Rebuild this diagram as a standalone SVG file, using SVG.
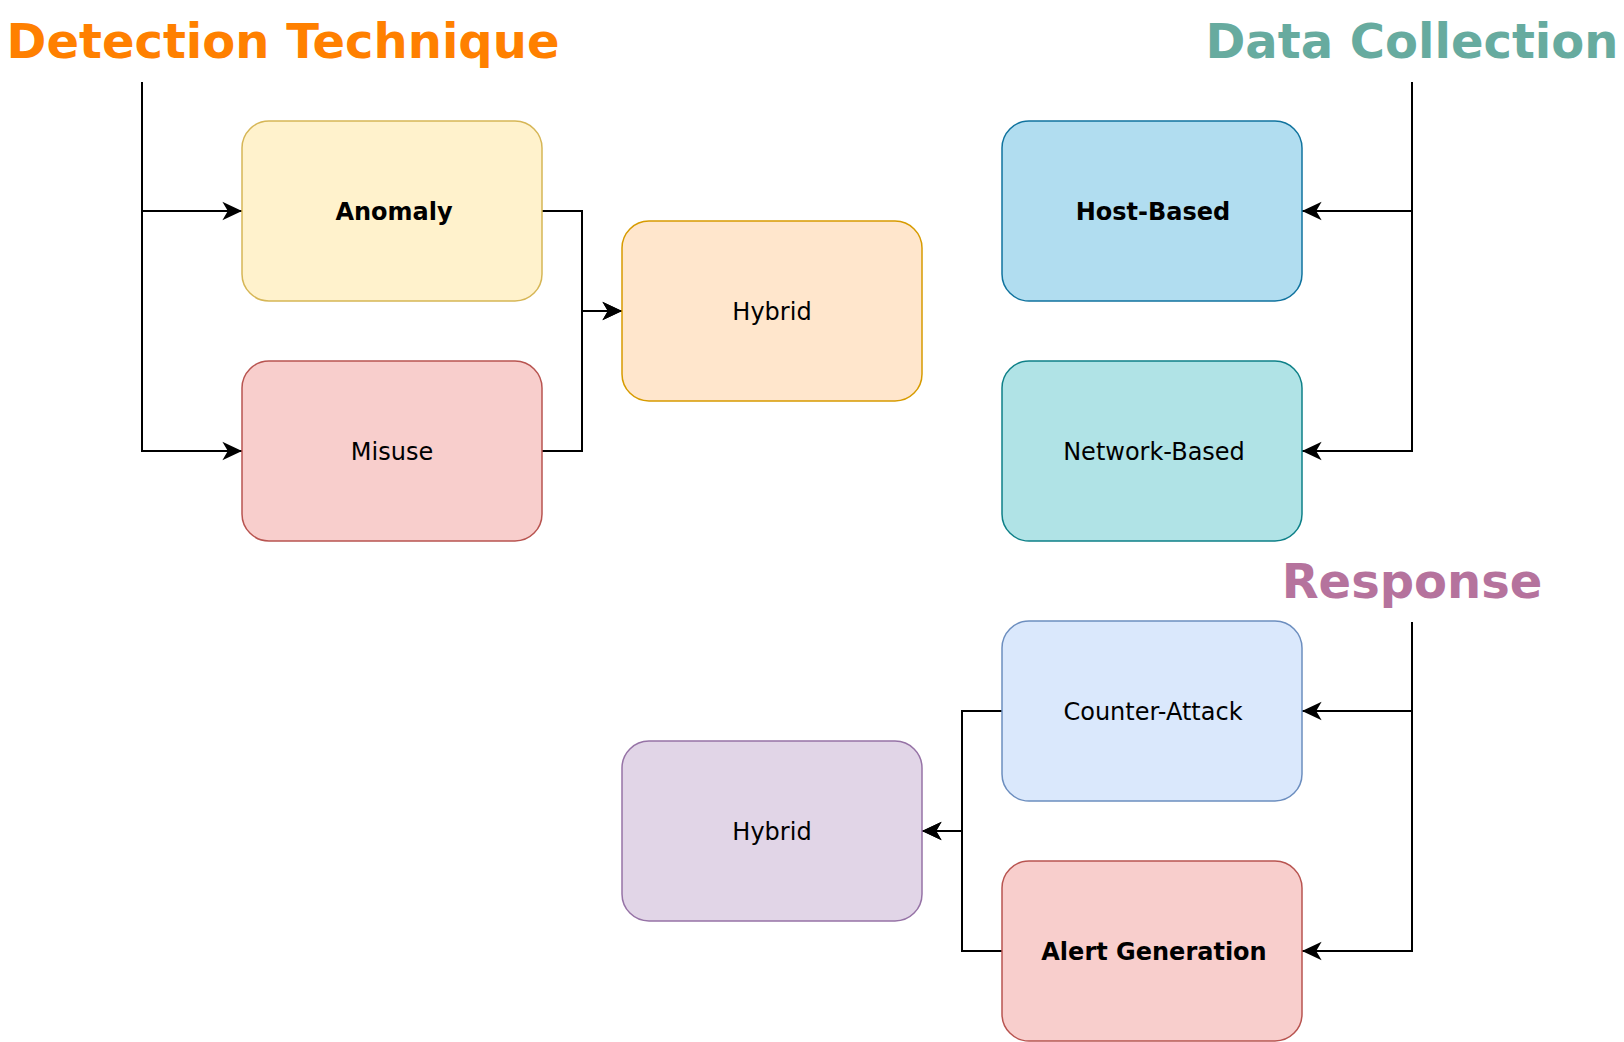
<svg xmlns="http://www.w3.org/2000/svg" width="1624" height="1042" viewBox="0 0 1624 1042">
<style>
.t{font-family:"DejaVu Sans","Liberation Sans",sans-serif;font-size:24px;text-anchor:middle;fill:#000}
.b{font-weight:bold}
.h{font-family:"DejaVu Sans","Liberation Sans",sans-serif;font-size:48px;font-weight:bold;text-anchor:middle}
.box{stroke-width:1.5}
.c{fill:none;stroke:#000;stroke-width:2}
</style>
<defs>
<marker id="arr" markerUnits="userSpaceOnUse" markerWidth="24" markerHeight="24" viewBox="-20 -10 22 20" refX="0" refY="0" orient="auto" overflow="visible">
<path d="M0,0 L-18,-8.5 L-13,0 L-18,8.5 Z" fill="#000"/>
</marker>
</defs>
<rect width="1624" height="1042" fill="#fff"/>
<g id="title-detection"><text class="h" x="283" y="58" fill="#FF8000">Detection Technique</text></g>
<g id="title-data"><text class="h" x="1412" y="58" fill="#67AB9F">Data Collection</text></g>
<g id="title-response"><text class="h" x="1412" y="598" fill="#B5739D">Response</text></g>
<g id="connectors">
<path class="c" d="M142,82 V211 H242" marker-end="url(#arr)"/>
<path class="c" d="M142,211 V451 H242" marker-end="url(#arr)"/>
<path class="c" d="M542,211 H582 V311 H622" marker-end="url(#arr)"/>
<path class="c" d="M542,451 H582 V311 H622" marker-end="url(#arr)"/>
<path class="c" d="M1412,82 V211 H1302" marker-end="url(#arr)"/>
<path class="c" d="M1412,211 V451 H1302" marker-end="url(#arr)"/>
<path class="c" d="M1412,622 V711 H1302" marker-end="url(#arr)"/>
<path class="c" d="M1412,711 V951 H1302" marker-end="url(#arr)"/>
<path class="c" d="M1002,711 H962 V831 H922" marker-end="url(#arr)"/>
<path class="c" d="M1002,951 H962 V831 H922" marker-end="url(#arr)"/>
</g>
<g id="anomaly"><rect class="box" x="242" y="121" width="300" height="180" rx="27" fill="#fff2cc" stroke="#d6b656"/><text class="t b" x="394" y="220">Anomaly</text></g>
<g id="misuse"><rect class="box" x="242" y="361" width="300" height="180" rx="27" fill="#f8cecc" stroke="#b85450"/><text class="t" x="392" y="460">Misuse</text></g>
<g id="hybrid-detection"><rect class="box" x="622" y="221" width="300" height="180" rx="27" fill="#ffe6cc" stroke="#d79b00"/><text class="t" x="772" y="320">Hybrid</text></g>
<g id="host-based"><rect class="box" x="1002" y="121" width="300" height="180" rx="27" fill="#b1ddf0" stroke="#10739e"/><text class="t b" x="1153" y="220">Host-Based</text></g>
<g id="network-based"><rect class="box" x="1002" y="361" width="300" height="180" rx="27" fill="#b0e3e6" stroke="#0e8088"/><text class="t" x="1154" y="460">Network-Based</text></g>
<g id="counter-attack"><rect class="box" x="1002" y="621" width="300" height="180" rx="27" fill="#dae8fc" stroke="#6c8ebf"/><text class="t" x="1153" y="720">Counter-Attack</text></g>
<g id="alert-generation"><rect class="box" x="1002" y="861" width="300" height="180" rx="27" fill="#f8cecc" stroke="#b85450"/><text class="t b" x="1154" y="960">Alert Generation</text></g>
<g id="hybrid-response"><rect class="box" x="622" y="741" width="300" height="180" rx="27" fill="#e1d5e7" stroke="#9673a6"/><text class="t" x="772" y="840">Hybrid</text></g>
</svg>
